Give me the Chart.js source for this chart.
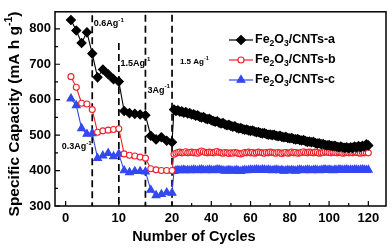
<!DOCTYPE html>
<html>
<head>
<meta charset="utf-8">
<script src="https://cdn.jsdelivr.net/npm/chart.js@4.4.1/dist/chart.umd.min.js"></script>
<style>
  html, body { margin: 0; padding: 0; background: #fff; }
  #wrap { width: 392px; height: 248px; }
</style>
</head>
<body>
<div id="wrap"><canvas id="rate" width="392" height="248"></canvas></div>
<script>
'use strict';

// ---- data ----
const cycles = Array.from({ length: 120 }, (_, i) => i + 1);

const capA = [
  825, 795, 760, 790, 730, 663, 685, 672, 658, 651,
  568, 562, 560, 558, 556, 498, 488, 494, 484, 480,
  572, 568, 570, 566, 567, 563, 565, 561, 562, 558,
  559, 555, 556, 552, 550, 551, 547, 545, 546, 542,
  540, 538, 539, 535, 533, 534, 530, 528, 529, 526,
  524, 525, 521, 519, 520, 517, 515, 516, 513, 512,
  513, 510, 508, 509, 506, 505, 506, 503, 501, 502,
  500, 501, 498, 497, 498, 495, 494, 495, 492, 491,
  492, 489, 488, 489, 486, 485, 486, 483, 481, 482,
  480, 481, 478, 476, 477, 474, 475, 472, 471, 472,
  470, 469, 470, 467, 466, 468, 465, 464, 466, 463,
  466, 464, 468, 465, 469, 466, 470, 468, 474, 471
];
const capB = [
  665, 635, 590, 588, 572, 508, 512, 514, 516, 518,
  447, 443, 441, 438, 435, 405, 402, 400, 400, 400,
  446, 449, 451, 452, 450, 451, 453, 450, 451, 452,
  450, 451, 449, 452, 455, 453, 451, 450, 452, 451,
  450, 452, 454, 451, 450, 449, 451, 450, 448, 450,
  449, 451, 450, 448, 447, 449, 451, 450, 452, 450,
  451, 449, 450, 452, 451, 450, 449, 451, 450, 452,
  451, 450, 449, 451, 450, 448, 450, 451, 449, 450,
  452, 450, 451, 449, 450, 451, 453, 451, 450, 452,
  451, 450, 452, 451, 449, 450, 451, 453, 452, 451,
  450, 452, 451, 450, 452, 451, 449, 450, 451, 450,
  451, 450, 452, 451, 450, 449, 451, 450, 451, 450
];
const capC = [
  603, 584, 519, 503, 505, 435, 442, 449, 440, 447,
  400, 395, 398, 398, 397, 345, 330, 333, 338, 337,
  398, 400, 401, 400, 401, 402, 400, 401, 400, 401,
  402, 401, 400, 402, 403, 401, 400, 401, 402, 401,
  400, 401, 403, 402, 401, 400, 399, 400, 401, 400,
  399, 400, 401, 399, 398, 400, 401, 400, 401, 402,
  401, 402, 403, 402, 401, 403, 402, 401, 402, 401,
  400, 401, 402, 401, 400, 401, 399, 400, 401, 400,
  401, 400, 399, 401, 402, 401, 400, 401, 402, 401,
  400, 401, 402, 401, 400, 401, 402, 403, 401, 402,
  401, 400, 402, 401, 403, 402, 401, 402, 403, 401,
  402, 401, 403, 402, 401, 402, 403, 402, 401, 402
];

const xMajor = [0, 10, 20, 40, 60, 80, 100, 120];
const xMinor = [5, 15, 30, 50, 70, 90, 110];
const yMajor = [300, 400, 500, 600, 700, 800];
const yMinor = [350, 450, 550, 650, 750];
const rateSteps = [5, 10, 15, 20];           // cycles where current density changes
const rateTops = [838, 760, 840, 840];        // where each dashed line starts

// ---- styling ----
const FAM = '"Liberation Sans", Arial, Helvetica, sans-serif';
const redColor = '#f2202a',
  blueColor = '#3348f0',
  blackColor = '#000000';

const series = [
  { name: 'Fe2O3/CNTs-a', data: capA, color: blackColor, style: 'rectRot', radius: 4.5, fill: blackColor },
  { name: 'Fe2O3/CNTs-b', data: capB, color: redColor, style: 'circle', radius: 3, fill: '#ffffff' },
  { name: 'Fe2O3/CNTs-c', data: capC, color: blueColor, style: 'triangle', radius: 4.5, fill: blueColor }
];

// annotations (rate labels), anchored in data coordinates
const notes = [
  { t: '0.6Ag', c: 5.3, v: 815, size: 9 },
  { t: '1.5Ag', c: 10.3, v: 703, size: 9 },
  { t: '3Ag', c: 15.4, v: 627, size: 9 },
  { t: '1.5 Ag', c: 24, v: 708, size: 8 },
  { t: '0.3Ag', c: -0.75, v: 467, size: 9 }
];

// x axis is stretched for the first 20 cycles
const BREAK = 20, STRETCH = 2.71;
class BrokenScale extends Chart.LinearScale {
  fwd(v) { return v <= BREAK ? v * STRETCH : BREAK * STRETCH + (v - BREAK); }
  inv(u) { return u <= BREAK * STRETCH ? u / STRETCH : u - BREAK * STRETCH + BREAK; }
  getPixelForValue(value) {
    const a = this.fwd(this.min), b = this.fwd(this.max);
    return this.getPixelForDecimal((this.fwd(value) - a) / (b - a));
  }
  getValueForPixel(pixel) {
    const a = this.fwd(this.min), b = this.fwd(this.max);
    return this.inv(a + this.getDecimalForPixel(pixel) * (b - a));
  }
}
BrokenScale.id = 'broken';
BrokenScale.defaults = Chart.LinearScale.defaults;
Chart.register(BrokenScale);

function drawRich(ctx, parts, x, y, size, weight, align) {
  const sizes = parts.map(p => (p[1] ? size * 0.68 : size));
  let total = 0;
  const widths = parts.map((p, i) => {
    ctx.font = weight + ' ' + sizes[i] + 'px ' + FAM;
    const w = ctx.measureText(p[0]).width;
    total += w;
    return w;
  });
  let cx = align === 'center' ? x - total / 2 : x;
  ctx.textAlign = 'left';
  ctx.textBaseline = 'middle';
  parts.forEach((p, i) => {
    ctx.font = weight + ' ' + sizes[i] + 'px ' + FAM;
    const dy = p[1] === 'sub' ? size * 0.32 : p[1] === 'sup' ? -size * 0.38 : 0;
    ctx.fillText(p[0], cx, y + dy);
    cx += widths[i];
  });
}

const decorPlugin = {
  id: 'decor',
  beforeDatasetsDraw(chart) {
    const { ctx, chartArea, scales } = chart;
    ctx.save();
    ctx.strokeStyle = '#000';
    ctx.lineWidth = 1.7;
    ctx.setLineDash([7, 4]);
    rateSteps.forEach((c, i) => {
      const px = scales.x.getPixelForValue(c);
      ctx.beginPath();
      ctx.moveTo(px, scales.y.getPixelForValue(rateTops[i]));
      ctx.lineTo(px, chartArea.bottom);
      ctx.stroke();
    });
    ctx.restore();
  },
  afterDraw(chart) {
    const { ctx, chartArea, scales } = chart;
    const { left, right, top, bottom } = chartArea;
    ctx.save();
    ctx.fillStyle = '#000';
    ctx.strokeStyle = '#000';

    // frame
    ctx.lineWidth = 1.5;
    ctx.strokeRect(left, top, right - left, bottom - top);

    // inward ticks
    ctx.lineWidth = 1.2;
    ctx.beginPath();
    xMajor.concat(xMinor).forEach(v => {
      const px = scales.x.getPixelForValue(v);
      ctx.moveTo(px, bottom);
      ctx.lineTo(px, bottom - (xMajor.includes(v) ? 5 : 3));
    });
    yMajor.concat(yMinor).forEach(v => {
      const py = scales.y.getPixelForValue(v);
      ctx.moveTo(left, py);
      ctx.lineTo(left + (yMajor.includes(v) ? 5 : 3), py);
    });
    ctx.stroke();

    // rate labels
    notes.forEach(n => {
      drawRich(ctx, [[n.t], ['-1', 'sup']], scales.x.getPixelForValue(n.c), scales.y.getPixelForValue(n.v), n.size, 'bold', 'left');
    });

    // legend
    series.forEach((s, i) => {
      const y = 40 + i * 20;
      ctx.strokeStyle = s.color;
      ctx.lineWidth = 1.2;
      ctx.beginPath();
      ctx.moveTo(229, y);
      ctx.lineTo(253, y);
      ctx.stroke();
      ctx.fillStyle = s.fill;
      ctx.strokeStyle = s.color;
      Chart.helpers.drawPoint(ctx, { pointStyle: s.style, radius: s.radius, borderWidth: 1.2, rotation: 0 }, 241, y);
      ctx.fillStyle = '#000';
      const tag = s.name.slice(-1);
      drawRich(ctx, [['Fe'], ['2', 'sub'], ['O'], ['3', 'sub'], ['/CNTs-' + tag]], 255, y, 12.5, 'bold', 'left');
    });

    // axis titles
    ctx.fillStyle = '#000';
    drawRich(ctx, [['Number of Cycles']], 194, 237, 14.5, 'bold', 'center');
    ctx.translate(15, 114);
    ctx.rotate(-Math.PI / 2);
    drawRich(ctx, [['Specific Capacity (mA h g'], ['-1', 'sup'], [')']], 0, 0, 15.5, 'bold', 'center');
    ctx.restore();
  }
};

const ctxRate = document.getElementById('rate');
new Chart(ctxRate, {
  type: 'line',
  data: {
    datasets: series.map(s => ({
      label: s.name,
      data: cycles.map((c, i) => ({ x: c, y: s.data[i] })),
      borderColor: s.color,
      borderWidth: 1.1,
      backgroundColor: s.fill,
      pointBackgroundColor: s.fill,
      pointBorderColor: s.color,
      pointBorderWidth: 1.1,
      pointStyle: s.style,
      pointRadius: s.radius,
      pointHoverRadius: s.radius,
      tension: 0,
      fill: false
    }))
  },
  options: {
    responsive: false,
    devicePixelRatio: 1,
    animation: false,
    layout: { padding: { left: 0, right: 6, top: 3, bottom: 0 } },
    plugins: {
      legend: { display: false },
      tooltip: { enabled: false }
    },
    scales: {
      x: {
        type: 'broken',
        min: -2,
        max: 129,
        afterBuildTicks: s => { s.ticks = xMajor.concat(xMinor).sort((a, b) => a - b).map(v => ({ value: v })); },
        afterFit: s => { s.height = 42; },
        grid: { display: false, drawTicks: false },
        border: { display: false },
        ticks: {
          autoSkip: false,
          maxRotation: 0,
          padding: 5,
          color: '#000',
          font: { family: FAM, size: 13, weight: 'bold' },
          callback: v => (xMajor.includes(v) ? String(v) : '')
        }
      },
      y: {
        min: 300,
        max: 848,
        afterBuildTicks: s => { s.ticks = yMajor.concat(yMinor).sort((a, b) => a - b).map(v => ({ value: v })); },
        afterFit: s => { s.width = 55; },
        grid: { display: false, drawTicks: false },
        border: { display: false },
        ticks: {
          padding: 4,
          color: '#000',
          font: { family: FAM, size: 13, weight: 'bold' },
          callback: v => (yMajor.includes(v) ? String(v) : '')
        }
      }
    }
  },
  plugins: [decorPlugin]
});
</script>
</body>
</html>
